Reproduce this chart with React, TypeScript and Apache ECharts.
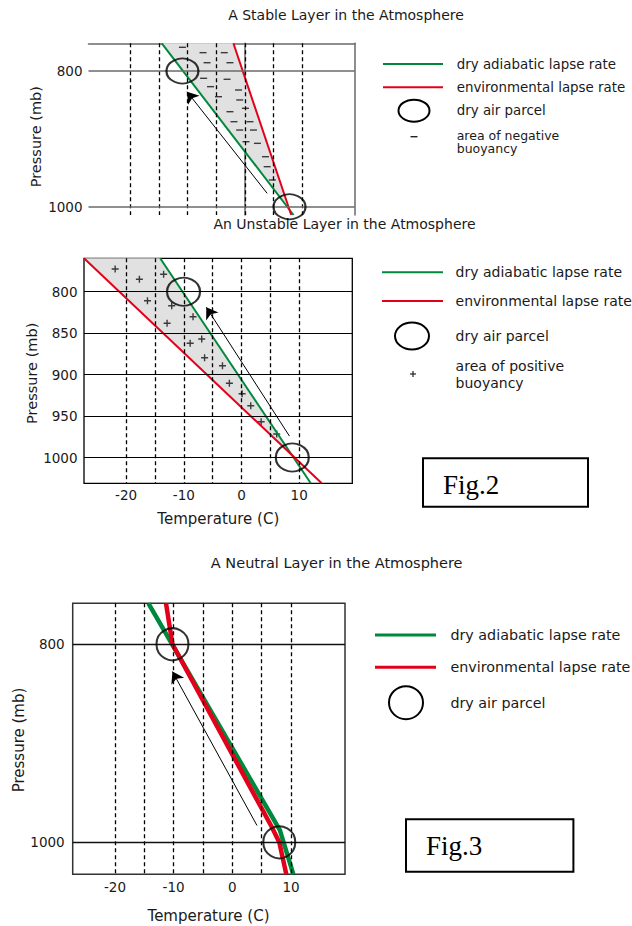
import React, { useEffect, useRef } from 'react';
import * as echarts from 'echarts';

// ---- shared axis data ----
const tempGuides = [-20, -15, -10, -5, 0, 5, 10];
const tempTicks = [-20, -10, 0, 10];
const pressureTicksStable = [800, 1000];
const pressureTicksUnstable = [800, 850, 900, 950, 1000];
const pressureTicksNeutral = [800, 1000];

// ---- Stable layer: [temperature C, pressure mb] ----
const stableDry = [[-14.5, 759.2], [8.5, 1012.2]];
const stableEnv = [[-2.0, 759.2], [8.1, 1012.2]];
const stableMeet = [7.4, 1000];
const stableParcels = [[-10.9, 800], [7.8, 1000]];
const stableArrow = [[3.9, 980.3], [-10.1, 830.5]];
const stableMinus = [
  [-10.9, 765.1], [-7.3, 773.0], [-3.6, 773.0], [-6.6, 787.8], [-2.6, 787.8],
  [-7.2, 810.8], [-3.1, 812.2], [-6.0, 823.1], [-1.1, 828.0], [-4.6, 837.9],
  [-0.9, 842.7], [-2.6, 860.0], [0.1, 855.0], [-1.9, 874.7], [0.9, 874.7],
  [-0.9, 887.0], [1.5, 887.0], [0.2, 904.2], [2.2, 906.6], [3.6, 926.3],
  [3.9, 941.0], [4.8, 960.6],
];

// ---- Unstable layer ----
const unstableDry = [[-14.1, 759.7], [12.0, 1031.1]];
const unstableEnv = [[-27.3, 759.7], [13.9, 1031.1]];
const unstableMeet = [8.5, 995];
const unstableParcels = [[-10.05, 800], [8.8, 1000]];
const unstableArrow = [[8.3, 974.1], [-6.1, 818.8]];
const unstablePlus = [
  [-21.9, 772.6], [-17.7, 785.0], [-13.5, 779.0], [-16.3, 810.9], [-12.1, 816.9],
  [-8.4, 830.2], [-12.9, 838.1], [-6.9, 857.1], [-8.9, 862.2], [-6.4, 879.6],
  [-3.3, 889.3], [-2.1, 910.5], [0.1, 923.0], [1.6, 937.5], [3.4, 956.8],
  [6.1, 971.7],
];

// ---- Neutral layer ----
const neutralDry = [[-14.3, 758.6], [8.1, 987.6], [10.4, 1032.3]];
const neutralEnv = [[-11.3, 758.6], [-10.2, 800], [6.7, 984.3], [8.0, 1000], [9.2, 1032.3]];
const neutralParcels = [[-10.2, 800], [8.0, 1000]];
const neutralArrow = [[4.2, 983], [-10.2, 827.6]];

const GREEN = '#00893c';
const RED = '#e3001b';
const FONT = 'DejaVu Sans';
const PLUS = 'path://M0,2.4H6V3.6H0Z M2.4,0H3.6V6H2.4Z';

function chartSeries(ix: number, iy: number, c: any) {
  const s: any[] = [];
  if (c.shade) {
    const pts = c.shade;
    s.push({
      type: 'custom', xAxisIndex: ix, yAxisIndex: iy, z: 1, silent: true,
      data: [[0, 900]],
      renderItem: (_p: any, api: any) => ({
        type: 'polygon',
        shape: { points: pts.map((p: number[]) => api.coord(p)) },
        style: { fill: '#e1e1e1' },
      }),
    });
  }
  s.push({
    type: 'line', xAxisIndex: ix, yAxisIndex: iy, z: 2, data: [], silent: true,
    markLine: {
      silent: true, symbol: ['none', 'none'], label: { show: false },
      lineStyle: { type: [4, 3], color: '#000', width: 1.3 },
      data: [
        ...tempGuides.map((t) => ({ xAxis: t })),
        ...c.hLines.map((p: number) => ({ yAxis: p, lineStyle: { type: 'solid', color: c.hColor, width: c.hWidth } })),
      ],
    },
  });
  if (c.marks) {
    s.push({
      type: 'scatter', xAxisIndex: ix, yAxisIndex: iy, z: 3, silent: true,
      data: c.marks, symbol: c.markSymbol, symbolSize: c.markSize,
      itemStyle: { color: '#111' },
    });
  }
  s.push({
    type: 'line', xAxisIndex: ix, yAxisIndex: iy, z: 4, data: c.dry, symbol: 'none',
    lineStyle: { color: GREEN, width: c.lw },
  });
  s.push({
    type: 'line', xAxisIndex: ix, yAxisIndex: iy, z: 4, data: c.env, symbol: 'none',
    lineStyle: { color: RED, width: c.lw },
  });
  s.push({
    type: 'scatter', xAxisIndex: ix, yAxisIndex: iy, z: 5, silent: true, clip: false,
    data: c.parcels, symbol: 'circle', symbolSize: c.parcelSize,
    itemStyle: { color: 'rgba(0,0,0,0)', borderColor: '#000', borderWidth: 2 },
  });
  s.push({
    type: 'lines', coordinateSystem: 'cartesian2d', xAxisIndex: ix, yAxisIndex: iy, z: 5,
    data: [{ coords: c.arrow }], symbol: ['none', 'arrow'], symbolSize: 11,
    lineStyle: { color: '#000', width: 1, opacity: 1 },
  });
  return s;
}

const txt = (x: number, y: number, text: string, size: number, extra: any = {}) => ({
  type: 'text', x, y, silent: true, ...extra,
  style: { text, fontSize: size, fontFamily: FONT, fill: '#1a1a1a', align: 'left', verticalAlign: 'middle', ...(extra.style || {}) },
});
const hline = (x1: number, x2: number, y: number, color: string, w: number) => ({
  type: 'line', silent: true, shape: { x1, y1: y, x2, y2: y }, style: { stroke: color, lineWidth: w },
});
const ell = (cx: number, cy: number, rx: number, ry: number) => ({
  type: 'ellipse', silent: true, shape: { cx, cy, rx, ry }, style: { fill: 'none', stroke: '#000', lineWidth: 2 },
});

export default function App() {
  const ref = useRef<HTMLDivElement>(null);
  useEffect(() => {
    const chart = echarts.init(ref.current!, null, { renderer: 'svg' });
    const axisLabel = (vals: number[], margin: number) => ({
      customValues: vals, margin, fontSize: 13.5, fontFamily: FONT, color: '#1a1a1a',
      formatter: (v: number) => String(v),
    });
    const option: any = {
      animation: false,
      backgroundColor: '#fff',
      grid: [
        { left: 88.5, top: 43.3, width: 266.3, height: 171.7, show: false },
        { left: 84, top: 258.3, width: 268.3, height: 225, show: true, borderColor: '#000', borderWidth: 1.3 },
        { left: 72.7, top: 603.3, width: 272.3, height: 271, show: true, borderColor: '#333', borderWidth: 1.5 },
      ],
      xAxis: [
        { type: 'value', gridIndex: 0, min: -27.3, max: 19.2, position: 'top',
          axisLine: { show: true, lineStyle: { color: '#6a6a6a', width: 1.5 } },
          axisTick: { show: false }, axisLabel: { show: false }, splitLine: { show: false } },
        { type: 'value', gridIndex: 1, min: -27.3, max: 19.2,
          axisLine: { show: false }, axisTick: { show: false }, splitLine: { show: false },
          axisLabel: axisLabel(tempTicks, 5) },
        { type: 'value', gridIndex: 2, min: -27.2, max: 19.2,
          axisLine: { show: false }, axisTick: { show: false }, splitLine: { show: false },
          axisLabel: axisLabel(tempTicks, 6) },
      ],
      yAxis: [
        { type: 'value', gridIndex: 0, min: 759.2, max: 1012.2, inverse: true, position: 'left',
          axisLine: { show: true, lineStyle: { color: '#6a6a6a', width: 1.5 } },
          axisTick: { show: false }, splitLine: { show: false }, axisLabel: axisLabel(pressureTicksStable, 6) },
        { type: 'value', gridIndex: 0, min: 759.2, max: 1012.2, inverse: true, position: 'right',
          axisLine: { show: true, lineStyle: { color: '#6a6a6a', width: 1.5 } },
          axisTick: { show: false }, splitLine: { show: false }, axisLabel: { show: false } },
        { type: 'value', gridIndex: 1, min: 759.7, max: 1031.1, inverse: true,
          axisLine: { show: false }, axisTick: { show: false }, splitLine: { show: false },
          axisLabel: axisLabel(pressureTicksUnstable, 6.5) },
        { type: 'value', gridIndex: 2, min: 758.6, max: 1032.3, inverse: true,
          axisLine: { show: false }, axisTick: { show: false }, splitLine: { show: false },
          axisLabel: axisLabel(pressureTicksNeutral, 8) },
      ],
      series: [
        ...chartSeries(0, 0, {
          shade: [stableDry[0], stableMeet, stableEnv[0]],
          hLines: pressureTicksStable, hColor: '#6a6a6a', hWidth: 1.5,
          marks: stableMinus, markSymbol: 'rect', markSize: [7, 1.4],
          dry: stableDry, env: stableEnv, lw: 2,
          parcels: stableParcels, parcelSize: [32, 25], arrow: stableArrow,
        }),
        ...chartSeries(1, 2, {
          shade: [unstableEnv[0], unstableDry[0], unstableMeet],
          hLines: pressureTicksUnstable, hColor: '#000', hWidth: 1.2,
          marks: unstablePlus, markSymbol: PLUS, markSize: 7,
          dry: unstableDry, env: unstableEnv, lw: 2,
          parcels: unstableParcels, parcelSize: [33, 28], arrow: unstableArrow,
        }),
        ...chartSeries(2, 3, {
          hLines: pressureTicksNeutral, hColor: '#111', hWidth: 1.3,
          dry: neutralDry, env: neutralEnv, lw: 4.5,
          parcels: neutralParcels, parcelSize: [32, 32], arrow: neutralArrow,
        }),
      ],
      graphic: [
        // titles
        txt(346, 15, 'A Stable Layer in the Atmosphere', 14, { style: { align: 'center' } }),
        txt(344.5, 224, 'An Unstable Layer in the Atmosphere', 14, { style: { align: 'center' } }),
        txt(336.7, 562.5, 'A Neutral Layer in the Atmosphere', 14.5, { style: { align: 'center' } }),
        // axis names
        txt(36.3, 136.7, 'Pressure (mb)', 14.5, { rotation: Math.PI / 2, style: { align: 'center' } }),
        txt(32.3, 373.3, 'Pressure (mb)', 14.5, { rotation: Math.PI / 2, style: { align: 'center' } }),
        txt(19, 740, 'Pressure (mb)', 15, { rotation: Math.PI / 2, style: { align: 'center' } }),
        txt(218.3, 519, 'Temperature (C)', 15, { style: { align: 'center' } }),
        txt(208.5, 915.5, 'Temperature (C)', 15, { style: { align: 'center' } }),
        // legend 1
        hline(383, 443, 64, GREEN, 2), hline(383, 443, 87.3, RED, 2), ell(414, 110.7, 15.5, 11),
        hline(410.5, 417.5, 136.7, '#222', 1.4),
        txt(456.7, 64, 'dry adiabatic lapse rate', 13.4),
        txt(456.7, 87.3, 'environmental lapse rate', 13.4),
        txt(456.7, 110.7, 'dry air parcel', 13.4),
        txt(456.7, 128.3, 'area of negative\nbuoyancy', 12.5, { style: { verticalAlign: 'top', lineHeight: 13.5 } }),
        // legend 2
        hline(382, 443, 272.3, GREEN, 2), hline(382, 443, 301, RED, 2), ell(412, 336, 17, 13.5),
        hline(410, 416, 374, '#222', 1.2), { type: 'line', silent: true, shape: { x1: 413, y1: 371, x2: 413, y2: 377 }, style: { stroke: '#222', lineWidth: 1.2 } },
        txt(455.6, 272.3, 'dry adiabatic lapse rate', 14),
        txt(455.6, 301, 'environmental lapse rate', 14),
        txt(455.6, 336, 'dry air parcel', 14),
        txt(455.6, 358.1, 'area of positive\nbuoyancy', 14, { style: { verticalAlign: 'top', lineHeight: 16.4 } }),
        // legend 3
        hline(375, 436, 635, GREEN, 3), hline(375, 436, 667.3, RED, 3), ell(406, 702.7, 17, 16.5),
        txt(450.4, 635, 'dry adiabatic lapse rate', 14.3),
        txt(450.4, 667.3, 'environmental lapse rate', 14.3),
        txt(450.4, 702.5, 'dry air parcel', 14.3),
        // figure boxes
        { type: 'rect', silent: true, shape: { x: 423, y: 458.3, width: 165, height: 48.4 }, style: { fill: 'none', stroke: '#000', lineWidth: 2 } },
        txt(443, 485, 'Fig.2', 27, { style: { fontFamily: 'Liberation Serif', fill: '#000' } }),
        { type: 'rect', silent: true, shape: { x: 406, y: 819.3, width: 167.4, height: 52.4 }, style: { fill: 'none', stroke: '#000', lineWidth: 2 } },
        txt(426, 845.5, 'Fig.3', 27, { style: { fontFamily: 'Liberation Serif', fill: '#000' } }),
      ],
    };
    chart.setOption(option);
    return () => chart.dispose();
  }, []);
  return <div ref={ref} style={{ position: 'absolute', left: 0, top: 0, width: 632, height: 926 }} />;
}
